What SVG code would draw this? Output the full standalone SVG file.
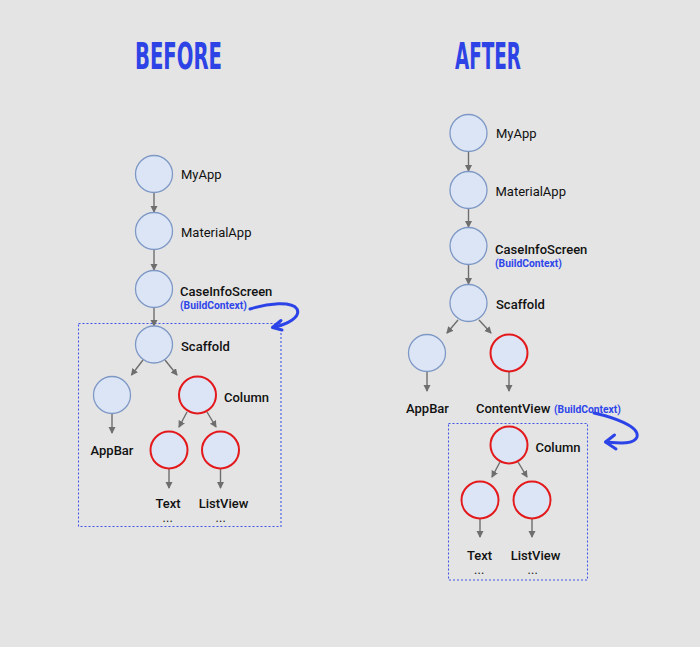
<svg xmlns="http://www.w3.org/2000/svg" width="700" height="647" viewBox="0 0 700 647">
<defs>
<style>
.bg{fill:#e4e4e4}
.node{fill:#dbe5f6;stroke:#7e98c6;stroke-width:1.3}
.red{fill:#dbe5f6;stroke:#e3191c;stroke-width:2}
.lbl{font-family:Roboto,"Liberation Sans",sans-serif;font-size:13px;fill:#111}
.med{font-weight:500}
.dots{font-family:Roboto,"Liberation Sans",sans-serif;font-size:10px;font-weight:500;fill:#111;letter-spacing:0.8px}
.ctx{font-family:Roboto,"Liberation Sans",sans-serif;font-size:10.3px;font-weight:bold;fill:#2f46ea}
.title{font-family:"Liberation Sans Narrow","DejaVu Sans Condensed","Liberation Sans",sans-serif;font-size:37px;font-weight:bold;fill:#2d43e6}
.conn line{stroke:#6e6e6e;stroke-width:1.4;marker-end:url(#ah)}
.box{fill:none;stroke:#3f55e6;stroke-width:1.1;stroke-dasharray:2 2}
.curve{fill:none;stroke:#2c43e8;stroke-width:3;stroke-linecap:round;stroke-linejoin:round}
</style>
<marker id="ah" markerWidth="8" markerHeight="8" refX="6" refY="3.5" orient="auto" markerUnits="userSpaceOnUse">
<path d="M0,0 L7,3.5 L0,7 Z" fill="#6e6e6e"/>
</marker>
</defs>
<rect class="bg" x="0" y="0" width="700" height="647"/>

<text class="title" x="135" y="68.5" textLength="87" lengthAdjust="spacingAndGlyphs">BEFORE</text>
<text class="title" x="455" y="68.5" textLength="66" lengthAdjust="spacingAndGlyphs">AFTER</text>

<rect class="box" x="78.5" y="323.5" width="202.5" height="203"/>
<rect class="box" x="448.5" y="423.5" width="139" height="156.5"/>

<g id="connectors" class="conn">
<line x1="154" y1="193" x2="154" y2="212"/>
<line x1="154" y1="250" x2="154" y2="270"/>
<line x1="154" y1="308" x2="154" y2="326"/>
<line x1="143" y1="360" x2="131.5" y2="375"/>
<line x1="165" y1="360" x2="177" y2="375"/>
<line x1="112" y1="414" x2="112" y2="433"/>
<line x1="187" y1="412" x2="179" y2="427"/>
<line x1="207" y1="412" x2="216" y2="427"/>
<line x1="169" y1="469" x2="169" y2="488"/>
<line x1="220.5" y1="469" x2="220.5" y2="488"/>

<line x1="468.5" y1="152" x2="468.5" y2="171"/>
<line x1="468.5" y1="209" x2="468.5" y2="227"/>
<line x1="468.5" y1="265" x2="468.5" y2="284"/>
<line x1="458" y1="320" x2="447" y2="333"/>
<line x1="479" y1="320" x2="491" y2="333"/>
<line x1="427" y1="372" x2="427" y2="391"/>
<line x1="509" y1="372" x2="509" y2="391"/>
<line x1="500" y1="462" x2="492" y2="477"/>
<line x1="518" y1="462" x2="527" y2="477"/>
<line x1="480" y1="519" x2="480" y2="537"/>
<line x1="532" y1="519" x2="532" y2="537"/>
</g>

<g id="before-myapp"><circle class="node" cx="154" cy="174" r="18.5"/><text class="lbl" x="181" y="179">MyApp</text></g>
<g id="before-materialapp"><circle class="node" cx="154" cy="231" r="18.5"/><text class="lbl" x="181" y="237">MaterialApp</text></g>
<g id="before-caseinfoscreen"><circle class="node" cx="154" cy="289" r="18.5"/><text class="lbl med" x="180" y="296">CaseInfoScreen</text><text class="ctx" x="180" y="308.5">(BuildContext)</text></g>
<g id="before-scaffold"><circle class="node" cx="154" cy="344.5" r="18.5"/><text class="lbl med" x="181" y="351">Scaffold</text></g>
<g id="before-appbar"><circle class="node" cx="112" cy="395" r="18.5"/><text class="lbl med" x="112" y="455" text-anchor="middle">AppBar</text></g>
<g id="before-column"><circle class="red" cx="197.5" cy="395" r="18.5"/><text class="lbl med" x="224" y="402">Column</text></g>
<g id="before-text"><circle class="red" cx="169" cy="450" r="18.5"/><text class="lbl med" x="168" y="508" text-anchor="middle">Text</text><text class="dots" x="168" y="521.5" text-anchor="middle">...</text></g>
<g id="before-listview"><circle class="red" cx="220.5" cy="450" r="18.5"/><text class="lbl med" x="223.5" y="508" text-anchor="middle">ListView</text><text class="dots" x="221" y="521.5" text-anchor="middle">...</text></g>

<g id="after-myapp"><circle class="node" cx="468.5" cy="133" r="18.5"/><text class="lbl" x="496" y="137.5">MyApp</text></g>
<g id="after-materialapp"><circle class="node" cx="468.5" cy="190" r="18.5"/><text class="lbl" x="495.5" y="196">MaterialApp</text></g>
<g id="after-caseinfoscreen"><circle class="node" cx="468.5" cy="246" r="18.5"/><text class="lbl med" x="495" y="253.5">CaseInfoScreen</text><text class="ctx" x="495" y="267">(BuildContext)</text></g>
<g id="after-scaffold"><circle class="node" cx="468.5" cy="303" r="18.5"/><text class="lbl med" x="496" y="309">Scaffold</text></g>
<g id="after-appbar"><circle class="node" cx="427" cy="353" r="18.5"/><text class="lbl med" x="427.5" y="413" text-anchor="middle">AppBar</text></g>
<g id="after-contentview"><circle class="red" cx="509" cy="353" r="18.5"/><text class="lbl med" x="476" y="413">ContentView</text><text class="ctx" x="554" y="413">(BuildContext)</text></g>
<g id="after-column"><circle class="red" cx="509" cy="445" r="18.5"/><text class="lbl med" x="535.5" y="452">Column</text></g>
<g id="after-text"><circle class="red" cx="480" cy="500" r="18.5"/><text class="lbl med" x="479.5" y="560" text-anchor="middle">Text</text><text class="dots" x="479.5" y="573.5" text-anchor="middle">...</text></g>
<g id="after-listview"><circle class="red" cx="532" cy="500" r="18.5"/><text class="lbl med" x="535.5" y="560" text-anchor="middle">ListView</text><text class="dots" x="533" y="573.5" text-anchor="middle">...</text></g>

<g id="before-context-arrow">
<path class="curve" d="M250,309 C268,303 292,301 297,309 C301,317 288,324 273,327.5"/>
<path class="curve" d="M281,320.5 L272.5,327.5 L282,330"/>
</g>
<g id="after-context-arrow">
<path class="curve" d="M594,413 C612,417 640,426 637,437 C634,445 618,443 606,442"/>
<path class="curve" d="M614.5,435 L605.5,442 L616,449"/>
</g>
</svg>
